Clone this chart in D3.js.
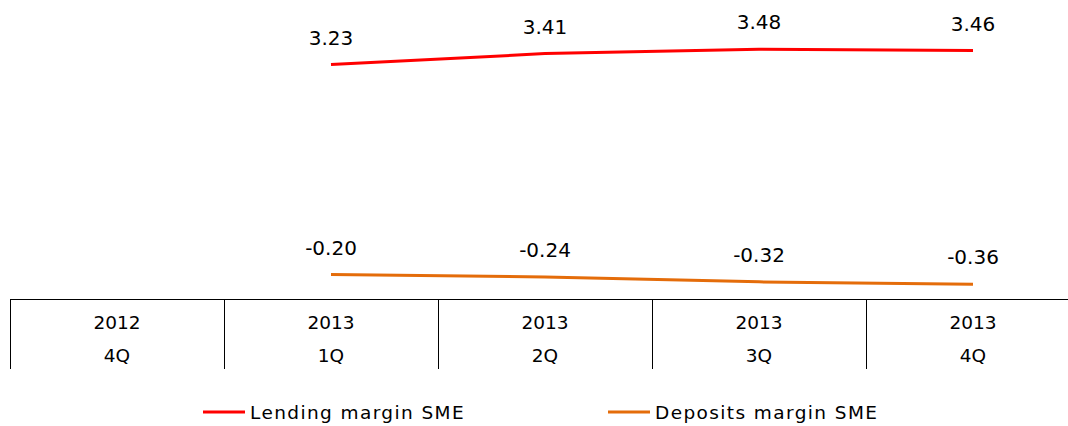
<!DOCTYPE html>
<html>
<head>
<meta charset="utf-8">
<script src="https://cdn.jsdelivr.net/npm/d3@7"></script>
<style>
  body { margin: 0; background: #fff; }
  svg text { font-family: "DejaVu Sans", Verdana, sans-serif; fill: #000; }
</style>
</head>
<body>
<div id="chart"></div>
<script>
// Datos del gráfico
const years = ["2012", "2013", "2013", "2013", "2013"];
const quarters = ["4Q", "1Q", "2Q", "3Q", "4Q"];
const lendingSME = [null, 3.23, 3.41, 3.48, 3.46];
const depositsSME = [null, -0.20, -0.24, -0.32, -0.36];

const width = 1068;
const height = 426;

const svg = d3.select("#chart")
              .append("svg")
              .attr("width", width)
              .attr("height", height);

// Escalas
const x = d3.scaleBand()
            .domain(d3.range(years.length))
            .range([10, 1080])
            .padding(0);

const y = d3.scaleLinear()
            .domain([-0.6, 4])
            .range([299, 17.5]);

const axisY = y.range()[0];
const fmt = d3.formatLocale({ decimal: ".", thousands: ",", grouping: [3], currency: ["", ""], minus: "-" }).format(".2f");

// Eje X: línea horizontal y separadores entre categorías
const axis = svg.append("g");
axis.append("line")
    .attr("x1", x.range()[0])
    .attr("x2", x.range()[1])
    .attr("y1", axisY + 0.5)
    .attr("y2", axisY + 0.5)
    .attr("stroke", "#000")
    .attr("stroke-width", 1);

axis.selectAll("line.sep")
    .data(d3.range(years.length))
    .enter()
    .append("line")
    .attr("class", "sep")
    .attr("x1", d => Math.round(x(d)) + 0.5)
    .attr("x2", d => Math.round(x(d)) + 0.5)
    .attr("y1", axisY)
    .attr("y2", axisY + 70)
    .attr("stroke", "#000")
    .attr("stroke-width", 1);

const lab = axis.selectAll("text.cat")
    .data(d3.range(years.length))
    .enter()
    .append("text")
    .attr("class", "cat")
    .attr("text-anchor", "middle")
    .attr("font-size", 18.5);
lab.append("tspan")
   .attr("x", d => x(d) + x.bandwidth() / 2)
   .attr("y", axisY + 30)
   .text(d => years[d]);
lab.append("tspan")
   .attr("x", d => x(d) + x.bandwidth() / 2)
   .attr("y", axisY + 63)
   .text(d => quarters[d]);

// Series
const series = [
  { name: "Lending margin SME", values: lendingSME, color: "#ff0000" },
  { name: "Deposits margin SME", values: depositsSME, color: "#e46c0a" }
];

const line = d3.line()
               .defined(d => d.v !== null)
               .x(d => x(d.i) + x.bandwidth() / 2)
               .y(d => y(d.v));

series.forEach(s => {
  const pts = s.values.map((v, i) => ({ i, v }));
  svg.append("path")
     .datum(pts)
     .attr("d", line)
     .attr("fill", "none")
     .attr("stroke", s.color)
     .attr("stroke-width", 3)
     .attr("stroke-linejoin", "round");

  svg.selectAll(null)
     .data(pts.filter(d => d.v !== null))
     .enter()
     .append("text")
     .attr("x", d => x(d.i) + x.bandwidth() / 2)
     .attr("y", d => y(d.v) - 20)
     .attr("text-anchor", "middle")
     .attr("font-size", 20)
     .text(d => fmt(d.v));
});

// Leyenda
const legendX = [203, 608];
const legend = svg.selectAll("g.legend")
                  .data(series)
                  .enter()
                  .append("g")
                  .attr("class", "legend")
                  .attr("transform", (d, i) => `translate(${legendX[i]},412)`);
legend.append("line")
      .attr("x1", 0)
      .attr("x2", 42)
      .attr("stroke", d => d.color)
      .attr("stroke-width", 3);
legend.append("text")
      .attr("x", 47)
      .attr("y", 6.5)
      .attr("font-size", 18.5)
      .attr("letter-spacing", 1.4)
      .text(d => d.name);
</script>
</body>
</html>
